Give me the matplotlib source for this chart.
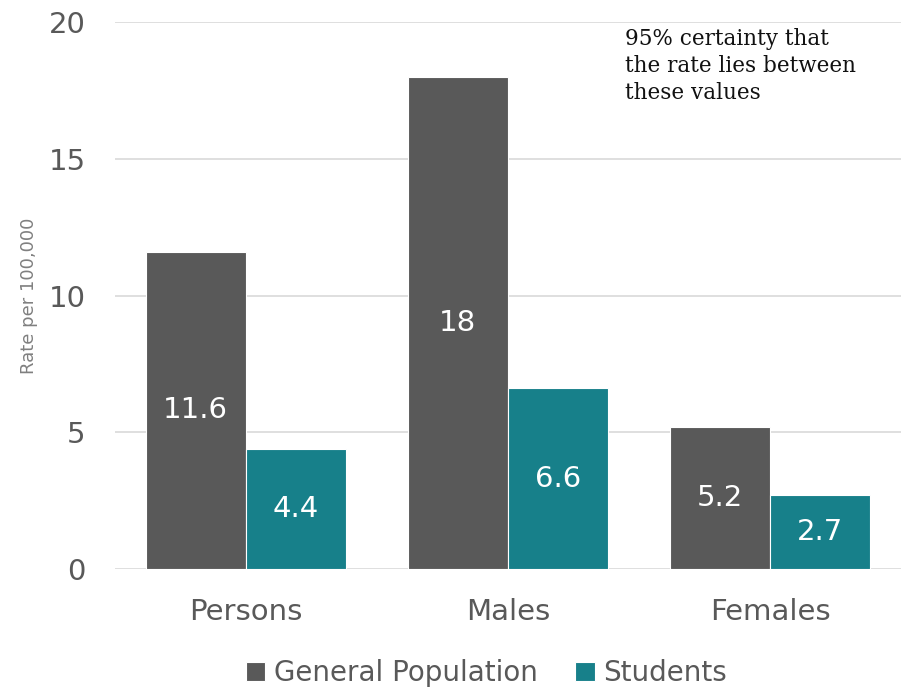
import matplotlib.pyplot as plt
import numpy as np

# chart data
categories = ['Persons', 'Males', 'Females']
general_population = [11.6, 18, 5.2]
students = [4.4, 6.6, 2.7]
y_ticks = [0, 5, 10, 15, 20]

plt.rcParams['font.family'] = ['DejaVu Sans']

fig = plt.figure(figsize=(9.03, 6.9), dpi=100)
ax = fig.add_axes([0.127, 0.1754, 0.871, 0.7926])

x = np.arange(len(categories))
w = 0.382
grey = '#595959'
teal = '#17808A'

b1 = ax.bar(x - w / 2, general_population, w, color=grey, label='General Population',
            edgecolor='white', linewidth=0.8, zorder=3)
b2 = ax.bar(x + w / 2, students, w, color=teal, label='Students',
            edgecolor='white', linewidth=0.8, zorder=3)

# value labels in the middle of each bar
for bars, vals in ((b1, general_population), (b2, students)):
    for rect, v in zip(bars, vals):
        ax.text(rect.get_x() + rect.get_width() / 2, v / 2, f'{v:g}',
                ha='center', va='center', color='white', fontsize=21, zorder=4)

ax.set_xlim(-0.5, 2.5)
ax.set_ylim(0, 20)
ax.set_yticks(y_ticks)
ax.set_xticks(x)
ax.set_xticklabels(categories)
ax.tick_params(axis='both', length=0, labelsize=21, colors=grey)
ax.tick_params(axis='x', pad=21)
ax.tick_params(axis='y', pad=21)
ax.grid(axis='y', color='#d9d9d9', linewidth=1.2, zorder=0)
for s in ax.spines.values():
    s.set_visible(False)

ax.set_ylabel('Rate per 100,000', fontsize=13, color='#808080')
ax.yaxis.set_label_coords(-0.098, 0.5)

ax.text(0.649, 0.99, '95% certainty that\nthe rate lies between\nthese values',
        transform=ax.transAxes, ha='left', va='top', fontsize=15.5,
        family='DejaVu Serif', color='#111111', linespacing=1.3)

fig.legend(handles=[b1, b2], loc='lower center', bbox_to_anchor=(0.5386, -0.032),
           ncol=2, frameon=False, fontsize=20, labelcolor=grey,
           handlelength=0.7, handleheight=0.7, handletextpad=0.3, columnspacing=1.35)

fig.savefig('out.png', dpi=100)
